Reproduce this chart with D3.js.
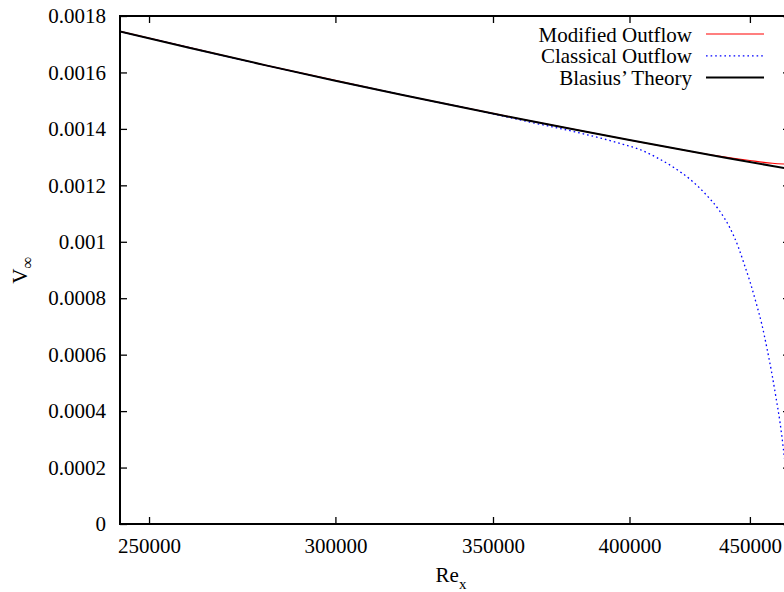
<!DOCTYPE html>
<html>
<head>
<meta charset="utf-8">
<script src="https://cdn.jsdelivr.net/npm/d3@7"></script>
<style>
  body { margin: 0; background: #fff; }
  svg { display: block; font-family: "Liberation Serif", "DejaVu Serif", serif; }
  .axis path { display: none; }
  .axis line { stroke: #000; stroke-width: 1.3; }
  .axis text { font-family: "Liberation Serif", "DejaVu Serif", serif; font-size: 21px; fill: #000; }
</style>
</head>
<body>
<div id="view"></div>
<script>
// values (Re_x, V_inf)
const modifiedRe = [243000, 280000, 320000, 360000, 400000, 420000, 435000, 450000, 460000, 468000];
const modifiedV = [0.0017454, 0.0016260, 0.0015210, 0.0014340, 0.0013604, 0.0013276, 0.0013055, 0.0012879, 0.0012782, 0.0012742];

const classicalRe = [243000, 280000, 320000, 345000, 362900, 381090, 397460, 404130, 410790, 417390,
  425010, 430660, 437020, 441320, 444920, 447400, 450040, 452690, 455220, 457590, 459830, 461630, 463440, 464940, 466620];
const classicalV = [0.0017454, 0.0016260, 0.0015210, 0.0014646, 0.0014240, 0.0013854, 0.0013454, 0.0013266, 0.0012986, 0.0012650,
  0.0012171, 0.0011711, 0.0011073, 0.0010488, 0.0009815, 0.0009230, 0.0008585, 0.0007848, 0.0007094, 0.0006219, 0.0005304, 0.0004482, 0.0003604, 0.0002693, 0.0001524];

const blasiusRe = [243000, 260000, 280000, 300000, 320000, 340000, 360000, 380000, 400000, 420000, 440000, 460000, 468000];
const blasiusV = [0.0017454, 0.0016874, 0.0016260, 0.0015709, 0.0015210, 0.0014756, 0.0014340, 0.0013958, 0.0013604, 0.0013276, 0.0012971, 0.0012686, 0.0012577];

const xTicks = [250000, 300000, 350000, 400000, 450000];
const yTicks = [0, 0.0002, 0.0004, 0.0006, 0.0008, 0.001, 0.0012, 0.0014, 0.0016, 0.0018];

const series = [
  {name: 'Modified Outflow', re: modifiedRe, v: modifiedV, color: '#ff0000', width: 1.1, dash: null},
  {name: 'Classical Outflow', re: classicalRe, v: classicalV, color: '#0000ff', width: 1.3, dash: '1.6,3'},
  {name: 'Blasius\u2019 Theory', re: blasiusRe, v: blasiusV, color: '#000000', width: 2, dash: null}
];

const w = 784;
const h = 592;
const plotL = 120, plotR = 790, plotT = 16, plotB = 524;
const serif = '"Liberation Serif", "DejaVu Serif", serif';

const svg = d3.select('#view').append('svg')
  .attr('width', w)
  .attr('height', h);

const x = d3.scaleLog().domain([243000, 468000]).range([plotL, plotR]);
const y = d3.scaleLinear().domain([0, 0.0018]).range([plotB, plotT]);

const fmtY = d => String(+d.toFixed(4));
const fmtX = d3.format('d');

// ticks on all four sides, pointing inward
function addAxis(axis, tx, ty) {
  svg.append('g').attr('class', 'axis')
    .attr('transform', `translate(${tx},${ty})`)
    .call(axis)
    .attr('font-family', serif)
    .attr('font-size', 21);
}

addAxis(d3.axisLeft(y).tickValues(yTicks).tickFormat(fmtY).tickSizeInner(-7).tickSizeOuter(0).tickPadding(14), plotL, 0);
addAxis(d3.axisRight(y).tickValues(yTicks).tickFormat('').tickSizeInner(-7).tickSizeOuter(0), plotR, 0);
addAxis(d3.axisBottom(x).tickValues(xTicks).tickFormat(fmtX).tickSizeInner(-7).tickSizeOuter(0).tickPadding(14), 0, plotB);
addAxis(d3.axisTop(x).tickValues(xTicks).tickFormat('').tickSizeInner(-7).tickSizeOuter(0), 0, plotT);

svg.append('clipPath').attr('id', 'plot-clip')
  .append('rect')
  .attr('x', plotL).attr('y', plotT)
  .attr('width', plotR - plotL).attr('height', plotB - plotT);

const line = d3.line()
  .x(d => x(d[0]))
  .y(d => y(d[1]))
  .curve(d3.curveMonotoneX);

const plot = svg.append('g').attr('clip-path', 'url(#plot-clip)');

for (const s of series) {
  plot.append('path')
    .datum(s.re.map((r, i) => [r, s.v[i]]))
    .attr('fill', 'none')
    .attr('stroke', s.color)
    .attr('stroke-width', s.width)
    .attr('stroke-dasharray', s.dash)
    .attr('d', line);
}

// frame
svg.append('rect')
  .attr('x', plotL).attr('y', plotT)
  .attr('width', plotR - plotL).attr('height', plotB - plotT)
  .attr('fill', 'none')
  .attr('stroke', '#000')
  .attr('stroke-width', 2);

// legend
const legend = svg.append('g');
series.forEach((s, i) => {
  const ly = 34 + i * 21.8;
  legend.append('text')
    .attr('x', 692)
    .attr('y', ly + 7.5)
    .attr('text-anchor', 'end')
    .attr('font-size', 21)
    .text(s.name);
  legend.append('line')
    .attr('x1', 706).attr('x2', 764)
    .attr('y1', ly).attr('y2', ly)
    .attr('stroke', s.color)
    .attr('stroke-width', s.width)
    .attr('stroke-dasharray', s.dash);
});

// axis titles
const xl = svg.append('text')
  .attr('x', 451)
  .attr('y', 582)
  .attr('text-anchor', 'middle')
  .attr('font-size', 21);
xl.append('tspan').text('Re');
xl.append('tspan').attr('dy', 7).attr('font-size', 15).text('x');

const yl = svg.append('text')
  .attr('transform', 'translate(27,270) rotate(-90)')
  .attr('text-anchor', 'middle')
  .attr('font-size', 21);
yl.append('tspan').text('V');
yl.append('tspan').attr('dy', 6).attr('font-size', 17).text('\u221e');
</script>
</body>
</html>
